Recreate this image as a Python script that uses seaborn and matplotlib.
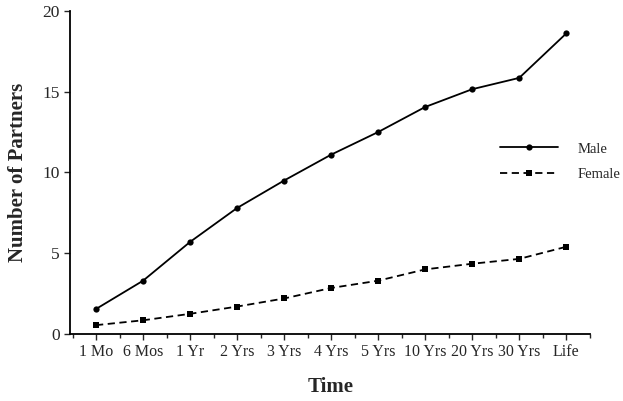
import matplotlib
matplotlib.use("Agg")
import matplotlib.pyplot as plt
from matplotlib.ticker import MultipleLocator
import numpy as np
import pandas as pd
import seaborn as sns

time_labels = ["1 Mo", "6 Mos", "1 Yr", "2 Yrs", "3 Yrs", "4 Yrs", "5 Yrs",
               "10 Yrs", "20 Yrs", "30 Yrs", "Life"]
male = [1.55, 3.3, 5.7, 7.8, 9.5, 11.1, 12.5, 14.05, 15.15, 15.85, 18.6]
female = [0.55, 0.85, 1.25, 1.7, 2.2, 2.85, 3.3, 4.0, 4.35, 4.65, 5.4]

df = pd.DataFrame({
    "pos": list(range(len(time_labels))) * 2,
    "partners": male + female,
    "sex": ["Male"] * len(male) + ["Female"] * len(female),
})

sns.set_style("ticks")
plt.rcParams["font.family"] = ["Liberation Serif", "DejaVu Serif"]

fig = plt.figure(figsize=(6.23, 4.01), dpi=100)
ax = fig.add_axes([0.1124, 0.167, 0.835, 0.806])

sns.lineplot(
    data=df, x="pos", y="partners", style="sex", ax=ax,
    color="black", linewidth=1.3,
    markers={"Male": "o", "Female": "s"},
    dashes={"Male": "", "Female": (4, 2.5)},
    markersize=4.5, markeredgewidth=0,
)

ax.set_xlim(-0.553, 10.51)
ax.set_ylim(0, 20)
ax.set_xticks(range(len(time_labels)))
ax.set_xticklabels(time_labels, fontsize=11.5)
ax.xaxis.set_minor_locator(MultipleLocator(0.5))
ax.set_yticks([0, 5, 10, 15, 20])
ax.tick_params(axis="y", labelsize=12.5, length=4, width=1)
ax.tick_params(axis="x", which="major", length=4, width=1)
ax.tick_params(axis="x", which="minor", length=3, width=1)
for s in ["top", "right"]:
    ax.spines[s].set_visible(False)
for s in ["left", "bottom"]:
    ax.spines[s].set_linewidth(1.3)
    ax.spines[s].set_color("black")

ax.set_xlabel("Time", fontsize=15, fontweight="bold", labelpad=12)
ax.set_ylabel("Number of Partners", fontsize=15, fontweight="bold", labelpad=10)

ax.legend(frameon=False, loc="upper left", bbox_to_anchor=(0.81, 0.62),
          handlelength=4.0, fontsize=10.5, labelspacing=0.85, handletextpad=1.3,
          borderaxespad=0.2)

fig.savefig("out.png", dpi=100)
